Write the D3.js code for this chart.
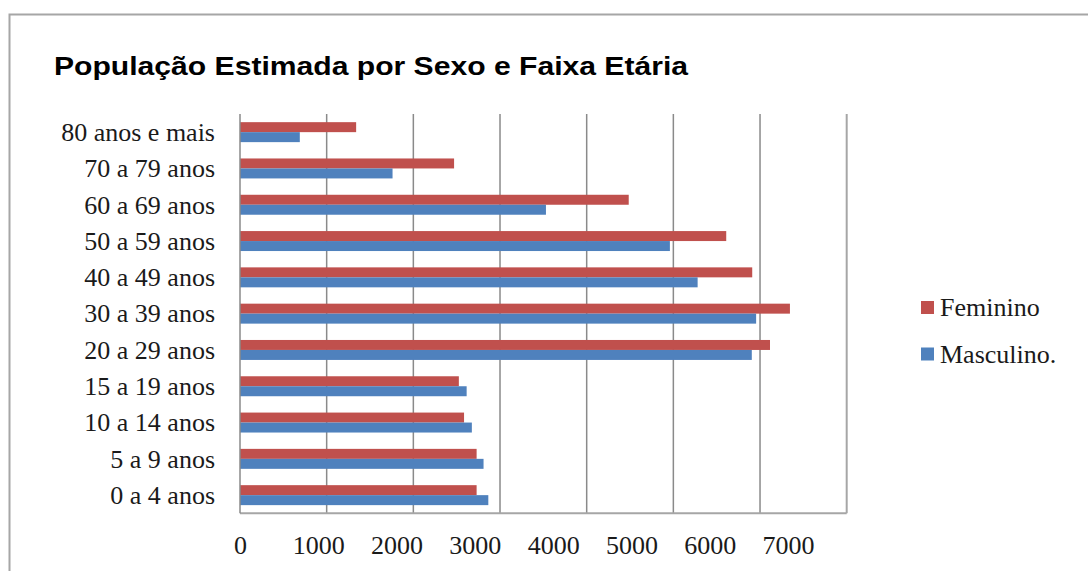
<!DOCTYPE html>
<html>
<head>
<meta charset="utf-8">
<script src="https://cdn.jsdelivr.net/npm/d3@7/dist/d3.min.js"></script>
<style>
  html, body { margin: 0; padding: 0; background: #fff; }
  svg { display: block; }
</style>
</head>
<body>
<svg id="chart" width="1088" height="571"></svg>
<script>
const categories = ["0 a 4 anos", "5 a 9 anos", "10 a 14 anos", "15 a 19 anos", "20 a 29 anos",
  "30 a 39 anos", "40 a 49 anos", "50 a 59 anos", "60 a 69 anos", "70 a 79 anos", "80 anos e mais"];
const seriesNames = ["Feminino", "Masculino."];
const feminino  = [2730, 2730, 2585, 2525, 6115, 6345, 5910, 5610, 4485, 2470, 1340];
const masculino = [2865, 2810, 2675, 2615, 5905, 5955, 5280, 4960, 3530, 1760, 690];
const xTicks = [0, 1000, 2000, 3000, 4000, 5000, 6000, 7000];
const colors = ["#C0504D", "#4F81BD"];
const title = "População Estimada por Sexo e Faixa Etária";

const svg = d3.select("#chart");
const plot = { left: 240, right: 846.7, top: 114, bottom: 513.3 };

// outer chart frame
svg.append("rect")
  .attr("x", 9.5).attr("y", 14.5).attr("width", 1200).attr("height", 700)
  .attr("fill", "#fff").attr("stroke", "#a6a6a6").attr("stroke-width", 2);

// title
svg.append("text")
  .attr("x", 54).attr("y", 74.5)
  .attr("font-family", "Liberation Sans, Arial, sans-serif")
  .attr("font-weight", "bold").attr("font-size", 25.5)
  .attr("fill", "#000")
  .attr("textLength", 634).attr("lengthAdjust", "spacingAndGlyphs")
  .text(title);

const x = d3.scaleLinear().domain([0, 7000]).range([plot.left, plot.right]);
// tick labels as rendered in the reference are spaced slightly tighter than the gridlines
const xLabel = d3.scaleLinear().domain([0, 7000]).range([240, 788]);
const y = d3.scaleBand().domain(categories).range([plot.bottom, plot.top])
  .paddingInner(0.45).paddingOuter(0.225);
const ySub = d3.scaleBand().domain(seriesNames).range([0, y.bandwidth()]);

// gridlines
svg.append("g").selectAll("line")
  .data(xTicks.filter(d => d > 0 && d < 7000))
  .join("line")
  .attr("x1", d => x(d)).attr("x2", d => x(d))
  .attr("y1", plot.top).attr("y2", plot.bottom)
  .attr("stroke", "#8a8a8a").attr("stroke-width", 1.5);

// plot border (bottom, right)
svg.append("line")
  .attr("x1", plot.left).attr("x2", x(7000))
  .attr("y1", plot.bottom).attr("y2", plot.bottom)
  .attr("stroke", "#a6a6a6").attr("stroke-width", 2);
svg.append("line")
  .attr("x1", x(7000)).attr("x2", x(7000))
  .attr("y1", plot.top).attr("y2", plot.bottom)
  .attr("stroke", "#a6a6a6").attr("stroke-width", 2);

// bars
const rows = categories.map((c, i) => ({ c, vals: [feminino[i], masculino[i]] }));
const groups = svg.append("g").selectAll("g")
  .data(rows).join("g")
  .attr("transform", d => `translate(0,${y(d.c)})`);
groups.selectAll("rect")
  .data(d => d.vals.map((v, k) => ({ v, k })))
  .join("rect")
  .attr("x", x(0))
  .attr("y", d => ySub(seriesNames[d.k]))
  .attr("width", d => x(d.v) - x(0))
  .attr("height", ySub.bandwidth())
  .attr("fill", d => colors[d.k]);

// left axis line
svg.append("line")
  .attr("x1", plot.left).attr("x2", plot.left)
  .attr("y1", plot.top).attr("y2", plot.bottom)
  .attr("stroke", "#8a8a8a").attr("stroke-width", 1.5);

// y axis labels
const yAxis = svg.append("g")
  .attr("transform", `translate(${plot.left},0)`)
  .call(d3.axisLeft(y).tickSize(0).tickPadding(25));
yAxis.select(".domain").remove();
yAxis.selectAll("text")
  .attr("font-family", "Liberation Serif, Times New Roman, serif")
  .attr("font-size", 26).attr("fill", "#1a1a1a").attr("dy", "0.34em");

// x axis labels
const xAxis = svg.append("g")
  .attr("transform", `translate(0,${plot.bottom})`)
  .call(d3.axisBottom(xLabel).tickValues(xTicks).tickSize(0).tickPadding(22).tickFormat(d3.format("d")));
xAxis.select(".domain").remove();
xAxis.selectAll("text")
  .attr("font-family", "Liberation Serif, Times New Roman, serif")
  .attr("font-size", 26).attr("fill", "#1a1a1a");

// legend
const legend = svg.append("g").selectAll("g")
  .data(seriesNames).join("g")
  .attr("transform", (d, i) => `translate(921,${301 + i * 46.5})`);
legend.append("rect")
  .attr("width", 13).attr("height", 13)
  .attr("fill", (d, i) => colors[i]);
legend.append("text")
  .attr("x", 19).attr("y", 6.5).attr("dy", "0.34em")
  .attr("font-family", "Liberation Serif, Times New Roman, serif")
  .attr("font-size", 26).attr("fill", "#1a1a1a")
  .text(d => d);
</script>
</body>
</html>
